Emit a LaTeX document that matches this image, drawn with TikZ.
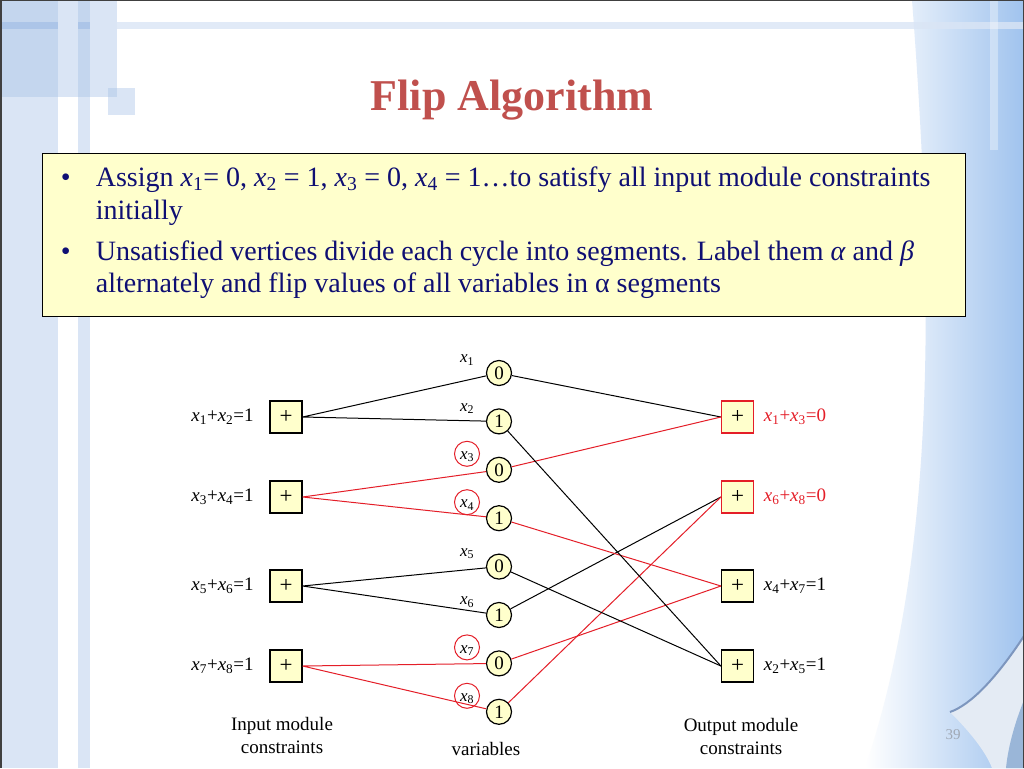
\documentclass[tikz,border=0pt]{standalone}
\usepackage{fontspec}
\setmainfont{Liberation Serif}
\usetikzlibrary{positioning}
\definecolor{titlered}{RGB}{192,80,77}
\definecolor{navy}{RGB}{15,15,115}
\definecolor{paleyellow}{RGB}{255,255,204}
\definecolor{edgered}{RGB}{228,30,40}
\definecolor{bgdark}{RGB}{196,214,238}
\definecolor{bglight}{RGB}{218,229,245}
\definecolor{bgcross}{RGB}{172,197,232}
\definecolor{sailblue}{RGB}{160,195,238}
\definecolor{curlgray}{RGB}{228,235,244}
\definecolor{curledge}{RGB}{125,150,190}
\definecolor{pagegray}{RGB}{160,168,180}
\newcommand{\xv}[1]{\textit{x}\textsubscript{#1}}

\begin{document}
\begin{tikzpicture}[x=1pt,y=-1pt,line width=1pt,
  font=\fontsize{19}{23}\selectfont,
  sumbox/.style={draw, line width=1.2pt, fill=paleyellow, minimum size=32pt, inner sep=0pt, font=\fontsize{23}{23}\selectfont},
  varnode/.style={circle, draw, line width=1.2pt, fill=paleyellow, minimum size=25pt, inner sep=0pt},
  bullet/.style={anchor=base west, text=navy, font=\fontsize{28}{32}\selectfont}]

% slide background
\useasboundingbox (0,0) rectangle (1024,768);
\fill[white] (0,0) rectangle (1024,768);
\shade[left color=white, right color=sailblue, draw=none] (1024,0) -- (912,0) .. controls (935,300) and (935,560) .. (865,768) -- (1024,768) -- cycle;
\fill[curlgray] (1024,636) .. controls (995,680) and (970,705) .. (950,712) .. controls (968,730) and (985,750) .. (992,768) -- (1024,768) -- cycle;
\draw[curledge, line width=2pt] (1024,636) .. controls (995,680) and (970,705) .. (950,712);
\fill[sailblue!80!gray] (1024,700) .. controls (1014,725) and (1008,748) .. (1006,768) -- (1024,768) -- cycle;
\fill[bglight] (0,0) rectangle (58,768);
\fill[bglight] (78,0) rectangle (90,768);
\fill[bglight] (58,0) rectangle (117,97);
\fill[bgdark] (0,0) rectangle (58,97);
\fill[bgdark] (78,0) rectangle (90,97);
\fill[bglight, opacity=0.8] (117,22) rectangle (1024,29);
\fill[bgcross] (0,22) rectangle (58,29);
\fill[bgcross] (78,22) rectangle (90,29);
\fill[bglight] (108,88) rectangle (135,115);
\fill[bgdark] (108,88) rectangle (117,97);
\fill[white, opacity=0.35] (990,0) rectangle (998,150);
\draw[darkgray, line width=1.5pt] (0.75,768) -- (0.75,0.75) -- (1023.25,0.75) -- (1023.25,768);

% title and text box
\node[anchor=base, text=titlered, font=\fontsize{44}{50}\selectfont\bfseries] (title) at (512,110) {Flip Algorithm};
\node[draw, fill=paleyellow, line width=1.2pt, minimum width=923pt, minimum height=163pt, anchor=north west] (tbox) at (42,153) {};
\node[bullet] (b1) at (57,186) {•};
\node[bullet] (t1) at (92,186) {Assign \xv{1}= 0, \xv{2} = 1, \xv{3} = 0, \xv{4} = 1…to satisfy all input module constraints};
\node[bullet] (t1b) at (92,219) {initially};
\node[bullet] (b2) at (57,260) {•};
\node[bullet] (t2) at (92,260) {Unsatisfied vertices divide each cycle into segments. Label them \textit{α} and \textit{β}};
\node[bullet] (t2b) at (92,292) {alternately and flip values of all variables in α segments};

% variables
\foreach \i/\v in {1/0,2/1,3/0,4/1,5/0,6/1,7/0,8/1}{
  \node[varnode] (v\i) at (499,{373+48.4*(\i-1)}) {\v};
  \node[font=\fontsize{17}{20}\selectfont] (n\i) at ([xshift=-32pt,yshift=13pt]v\i.center) {\xv{\i}};
}
\foreach \i in {3,4,7,8}
\draw[edgered] ([yshift=3pt]n\i.center) circle (12.5pt);

% input module constraints
\foreach \i/\y/\a/\b in {1/417/1/2, 2/497/3/4, 3/586/5/6, 4/666/7/8}{
  \node[sumbox] (L\i) at (286,\y) {+};
  \node[left=12pt of L\i] (ll\i) {\xv{\a}+\xv{\b}=1};
}

% output module constraints
\node[sumbox, draw=edgered] (R1) at (737.5,417) {+};
\node[sumbox, draw=edgered] (R2) at (737.5,497) {+};
\node[sumbox] (R3) at (737.5,586) {+};
\node[sumbox] (R4) at (737.5,666) {+};
\node[right=6pt of R1, text=edgered] (rl1) {\xv{1}+\xv{3}=0};
\node[right=6pt of R2, text=edgered] (rl2) {\xv{6}+\xv{8}=0};
\node[right=6pt of R3] (rl3) {\xv{4}+\xv{7}=1};
\node[right=6pt of R4] (rl4) {\xv{2}+\xv{5}=1};

% edges
\foreach \i/\a/\b/\c in {1/1/2/black, 2/3/4/edgered, 3/5/6/black, 4/7/8/edgered}
\draw[\c] (L\i.east) -- (v\a) (L\i.east) -- (v\b);
\foreach \a/\r/\c in {1/1/black, 3/1/edgered, 6/2/black, 8/2/edgered, 4/3/edgered, 7/3/edgered, 2/4/black, 5/4/black}
\draw[\c] (v\a) -- (R\r.west);

% captions
\node[align=center] (incap) at (282,735) {Input module\\constraints};
\node (varcap) at (486,749) {variables};
\node[align=center] (outcap) at (741,736) {Output module\\constraints};
\node[text=pagegray, font=\fontsize{15}{16}\selectfont] (pgnum) at (953,735) {39};
\end{tikzpicture}
\end{document}
